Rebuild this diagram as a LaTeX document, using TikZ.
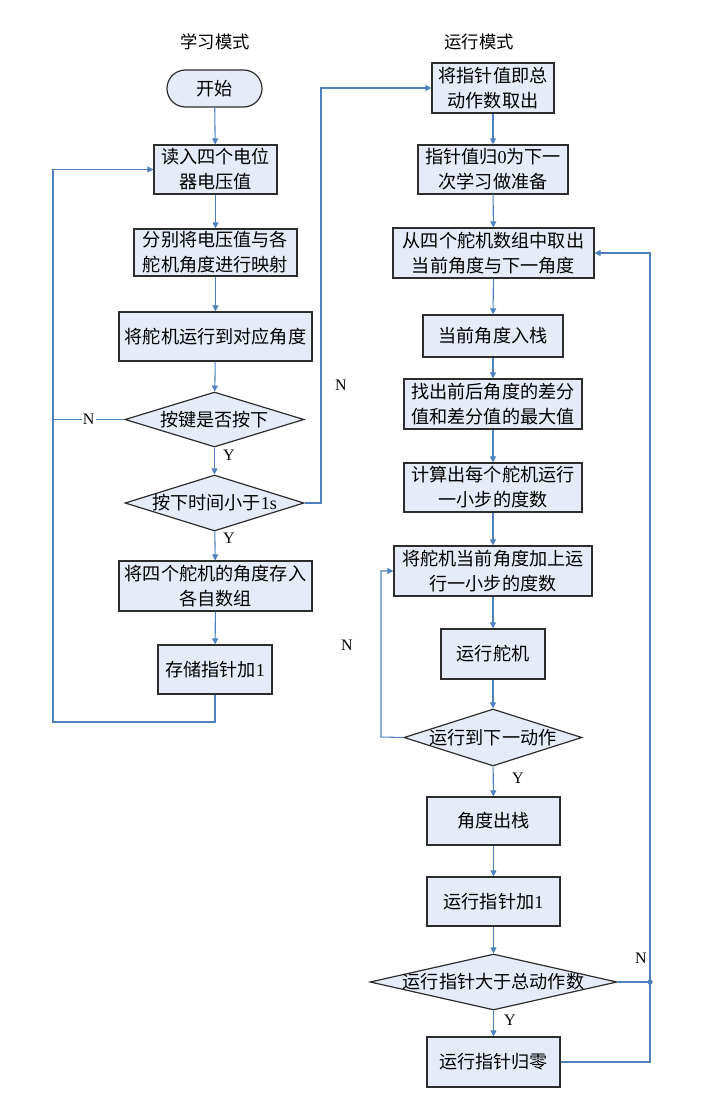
\documentclass[tikz,border=0pt]{standalone}
\usepackage{fontspec}
\setmainfont{Liberation Serif}
\newfontfamily\cjk{Noto Sans CJK SC}
\usetikzlibrary{arrows.meta,shapes.geometric}
\definecolor{fillc}{RGB}{230,236,247}
\definecolor{boxc}{RGB}{45,45,45}
\definecolor{linec}{RGB}{79,129,189}
\newcommand\latn[1]{{\rmfamily #1}}
\tikzset{
  box/.style={draw=boxc, fill=fillc, line width=0.9pt, inner sep=0pt, align=center,
    font=\cjk\fontsize{13.6pt}{18.75pt}\selectfont},
  startbox/.style={box, rounded corners=13.8pt},
  dia/.style={diamond, draw=boxc, fill=fillc, line width=0.9pt, inner sep=0pt},
  diatext/.style={inner sep=0pt, font=\cjk\fontsize{13.6pt}{18.75pt}\selectfont},
  title/.style={font=\cjk\fontsize{13pt}{16pt}\selectfont},
  yn/.style={font=\fontsize{12pt}{14pt}\selectfont, inner sep=1pt},
  conn/.style={draw=linec, line width=0.8pt},
  arr/.style={conn, -{Triangle[length=4.5pt,width=4.5pt]}},
}
\begin{document}
\begin{tikzpicture}[x=0.75pt,y=-0.75pt]
\useasboundingbox (0,0) rectangle (701,1097);
% titles
\node[title] (t1) at (215,42) {学习模式};
\node[title] (t2) at (479,42) {运行模式};
% left column
\node[startbox, minimum width=71.25pt, minimum height=27.75pt] (start) at (214.5,88.5) {开始};
\node[box, minimum width=92.25pt, minimum height=36.75pt] (r1) at (215.5,169.5) {读入四个电位\\器电压值};
\node[box, minimum width=122.25pt, minimum height=35.25pt] (r2) at (215.5,252.5) {分别将电压值与各\\舵机角度进行映射};
\node[box, minimum width=144.75pt, minimum height=36.75pt] (r3) at (215.5,336.5) {将舵机运行到对应角度};
\node[dia, minimum width=134.25pt, minimum height=41.25pt] (d1) at (214.5,419.5) {};
\node[diatext] at (d1) {按键是否按下};
\node[dia, minimum width=134.25pt, minimum height=42pt] (d2) at (214.5,503) {};
\node[diatext] at (d2) {按下时间小于\latn{1s}};
\node[box, minimum width=144.75pt, minimum height=37.5pt] (r4) at (215.5,586) {将四个舵机的角度存入\\各自数组};
\node[box, minimum width=85.5pt, minimum height=36.75pt] (r5) at (215,669.5) {存储指针加\latn{1}};
% right column
\node[box, minimum width=91.5pt, minimum height=37.5pt] (q1) at (493,88) {将指针值即总\\动作数取出};
\node[box, minimum width=112.5pt, minimum height=36.75pt] (q2) at (493,169.5) {指针值归\latn{0}为下一\\次学习做准备};
\node[box, minimum width=150.75pt, minimum height=37.5pt] (q3) at (493.5,253) {从四个舵机数组中取出\\当前角度与下一角度};
\node[box, minimum width=105pt, minimum height=31.5pt] (q4) at (493,336) {当前角度入栈};
\node[box, minimum width=133.5pt, minimum height=37.5pt] (q5) at (493,404) {找出前后角度的差分\\值和差分值的最大值};
\node[box, minimum width=133.5pt, minimum height=36.75pt] (q6) at (493,487.5) {计算出每个舵机运行\\一小步的度数};
\node[box, minimum width=148.5pt, minimum height=37.5pt] (q7) at (493,571) {将舵机当前角度加上运\\行一小步的度数};
\node[box, minimum width=78pt, minimum height=37.5pt] (q8) at (493,654) {运行舵机};
\node[dia, minimum width=133.5pt, minimum height=42.75pt] (e1) at (493,737.5) {};
\node[diatext] at (e1) {运行到下一动作};
\node[box, minimum width=99.75pt, minimum height=36pt] (q9) at (493.5,821) {角度出栈};
\node[box, minimum width=99.75pt, minimum height=36.75pt] (q10) at (493.5,901.5) {运行指针加\latn{1}};
\node[dia, minimum width=185.25pt, minimum height=42pt] (e2) at (493.5,982) {};
\node[diatext] at (e2) {运行指针大于总动作数};
\node[box, minimum width=99.75pt, minimum height=37.5pt] (q11) at (493.5,1062) {运行指针归零};
% coordinates
\coordinate (lx) at (53,722);
\coordinate (rx) at (321,503);
\coordinate (mx) at (381,737);
\coordinate (dot) at (650,982);
\coordinate (fx) at (650,1062);
% left arrows
\draw[arr] (start) -- (r1);
\draw[arr] (r1) -- (r2);
\draw[arr] (r2) -- (r3);
\draw[arr] (r3) -- (d1);
\draw[arr] (d1) -- (d2);
\node[yn] (y1) at (229,455) {Y};
\draw[arr] (d2) -- (r4);
\node[yn] (y2) at (229,538) {Y};
\draw[arr] (r4) -- (r5);
\draw[arr] (r5.south) |- (lx) |- (r1.west);
\draw[conn] (d1.west) -- node[yn, fill=white, inner sep=1pt, pos=0.5] {N} (53,419.5);
\draw[arr] (d2.east) -- (rx) |- (q1.west);
\node[yn] (n1) at (341,385) {N};
% right arrows
\draw[arr] (q1) -- (q2);
\draw[arr] (q2) -- (q3);
\draw[arr] (q3) -- (q4);
\draw[arr] (q4) -- (q5);
\draw[arr] (q5) -- (q6);
\draw[arr] (q6) -- (q7);
\draw[arr] (q7) -- (q8);
\draw[arr] (q8) -- (e1);
\draw[arr] (e1) -- (q9);
\node[yn] (y3) at (518,778) {Y};
\draw[arr] (q9) -- (q10);
\draw[arr] (q10) -- (e2);
\draw[arr] (e2) -- (q11);
\node[yn] (y4) at (510,1020) {Y};
\draw[arr] (e1.west) -- (mx) |- (q7.west);
\node[yn] (n2) at (347,645) {N};
\draw[conn] (e2.east) -- (dot);
\fill[linec] (dot) circle (2pt);
\draw[arr] (q11.east) -- (fx) |- (q3.east);
\node[yn] (n3) at (641,958) {N};
\end{tikzpicture}
\end{document}
